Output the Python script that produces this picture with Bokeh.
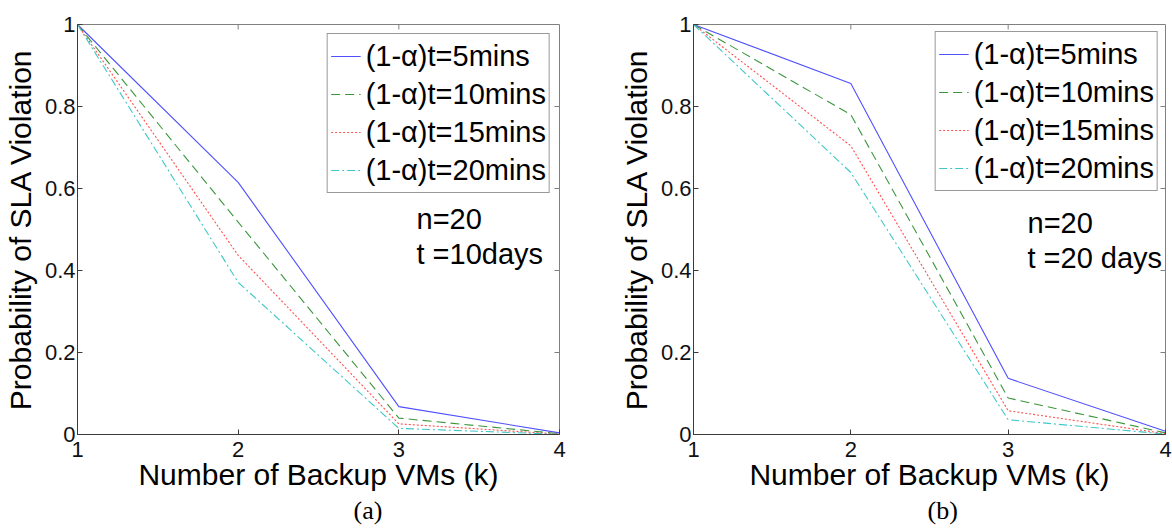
import math
from bokeh.plotting import figure
from bokeh.models import Label, FixedTicker, CustomJSTickFormatter, Title
from bokeh.layouts import row
from bokeh.embed import file_html
from bokeh.resources import INLINE

# ---------------- data ----------------
k_values = [1, 2, 3, 4]
x_ticks = [1, 2, 3, 4]
y_ticks = [0, 0.2, 0.4, 0.6, 0.8, 1.0]
series_labels = ["(1-α)t=5mins", "(1-α)t=10mins", "(1-α)t=15mins", "(1-α)t=20mins"]

# panel (a): n=20, t=10 days
a_5mins = [1.0, 0.615, 0.068, 0.004]
a_10mins = [1.0, 0.518, 0.040, 0.002]
a_15mins = [1.0, 0.437, 0.026, 0.001]
a_20mins = [1.0, 0.371, 0.015, 0.0005]

# panel (b): n=20, t=20 days
b_5mins = [1.0, 0.856, 0.137, 0.008]
b_10mins = [1.0, 0.780, 0.089, 0.004]
b_15mins = [1.0, 0.704, 0.058, 0.002]
b_20mins = [1.0, 0.639, 0.036, 0.001]

x_label = "Number of Backup VMs (k)"
y_label = "Probability of SLA Violation"
a_notes = ["n=20", "t =10days"]
b_notes = ["n=20", "t =20 days"]

# ---------------- styles ----------------
FONT = "Liberation Sans"
colors = ["#5050ff", "#3c963c", "#ff5050", "#40c8c8"]
dashes = ["solid", "9 5", "2 2", "8 3 2 3"]


def make_panel(series, notes, caption, width, height, mb_left, mb_right, mb_top, mb_bottom,
               legend_margin, note_x, note_y, cap_offset):
    p = figure(width=width, height=height, x_range=(1, 4), y_range=(0, 1),
               output_backend="svg", toolbar_location=None,
               min_border_left=mb_left, min_border_right=mb_right,
               min_border_top=mb_top, min_border_bottom=mb_bottom)
    p.background_fill_color = "white"
    p.border_fill_color = "white"
    p.grid.visible = False
    p.outline_line_color = "#808080"
    p.outline_line_width = 1

    for ys, lab, c, d in zip(series, series_labels, colors, dashes):
        p.line(k_values, ys, line_color=c, line_width=1.1, line_dash=d, legend_label=lab)

    # MATLAB-style inward ticks on the top and right edges of the box
    p.ray(x=x_ticks[1:-1], y=[y_ticks[-1]] * (len(x_ticks) - 2), length=5,
          length_units="screen", angle=-math.pi / 2, line_color="#808080", line_width=1)
    p.ray(x=[x_ticks[-1]] * (len(y_ticks) - 2), y=y_ticks[1:-1], length=5,
          length_units="screen", angle=math.pi, line_color="#808080", line_width=1)

    fmt = CustomJSTickFormatter(code="return String(Math.round(tick*10)/10)")

    xa = p.xaxis[0]
    xa.ticker = FixedTicker(ticks=x_ticks)
    xa.formatter = fmt
    ya = p.yaxis[0]
    ya.ticker = FixedTicker(ticks=y_ticks)
    ya.formatter = fmt
    for ax in (xa, ya):
        ax.axis_line_color = "#3a3a3a"
        ax.major_tick_line_color = "#3a3a3a"
        ax.major_tick_in = 5
        ax.major_tick_out = 0
        ax.minor_tick_line_color = None
        ax.major_label_text_font = FONT
        ax.major_label_text_font_size = "22px"
        ax.major_label_text_color = "#111111"
        ax.axis_label_text_font = FONT
        ax.axis_label_text_font_size = "30px"
        ax.axis_label_text_font_style = "normal"
        ax.axis_label_text_color = "#000000"
    xa.axis_label = x_label
    ya.axis_label = y_label
    xa.major_label_standoff = 7
    xa.axis_label_standoff = -2
    ya.major_label_standoff = 2
    ya.axis_label_standoff = 5

    cap = Title(text=caption, align="left", offset=cap_offset,
                text_font="Liberation Serif", text_font_size="26px",
                text_font_style="normal", text_color="#000000", standoff=0)
    p.add_layout(cap, "below")

    lg = p.legend[0]
    lg.location = "top_right"
    lg.label_text_font = FONT
    lg.label_text_font_size = "29px"
    lg.label_text_color = "#000000"
    lg.glyph_width = 30
    lg.glyph_height = 38
    lg.label_height = 38
    lg.label_standoff = 5
    lg.spacing = 0
    lg.padding = 3
    lg.margin = legend_margin
    lg.border_line_color = "#333333"
    lg.border_line_width = 1
    lg.background_fill_color = "white"

    for i, t in enumerate(notes):
        p.add_layout(Label(x=note_x, y=note_y - 35 * i, x_units="screen", y_units="screen",
                           text=t, text_font=FONT, text_font_size="29px",
                           text_color="#000000", text_baseline="alphabetic"))
    return p


pa = make_panel([a_5mins, a_10mins, a_15mins, a_20mins], a_notes, "(a)",
                590, 530, 76, 31, 19, 96, 9, 339, 216, 276)
pb = make_panel([b_5mins, b_10mins, b_15mins, b_20mins], b_notes, "(b)",
                582, 530, 103, 7, 24, 96, 7, 334, 212, 234)

layout = row(pa, pb)
open("out.html", "w").write(file_html(layout, INLINE))
